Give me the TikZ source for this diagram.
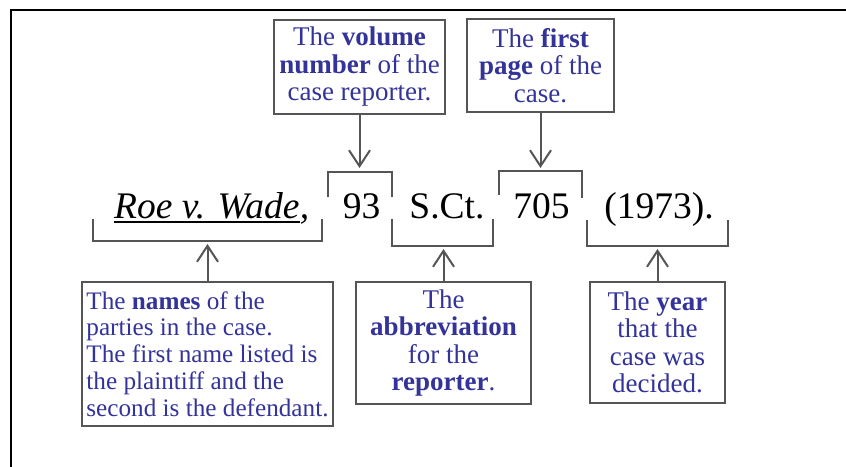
\documentclass[tikz,border=0pt]{standalone}
\usepackage{fontspec}
\setmainfont{Liberation Serif}
\usetikzlibrary{arrows.meta}
\definecolor{txtblue}{HTML}{333399}
\definecolor{lgray}{HTML}{555555}
\begin{document}
\begin{tikzpicture}[x=1pt,y=-1pt,
  note/.style={draw=lgray, line width=2pt, text=txtblue, align=center, inner sep=0pt, font=\fontsize{27}{27.5}\selectfont},
  cite/.style={anchor=base, inner sep=0pt, font=\fontsize{37.5}{40}\selectfont},
  brk/.style={draw=lgray, line width=2pt},
  arr/.style={draw=lgray, line width=2pt, -{Straight Barb[length=16pt,width=21pt]}}]
\useasboundingbox (0,0) rectangle (846,466);
\fill[white] (0,0) rectangle (846,466);
\draw[line width=2.5pt] (11,470) -- (11,10) -- (850,10);

% explanation boxes
\node[note, minimum width=171pt, minimum height=94pt] (vol) at (359.5,67) {The \textbf{volume}\\\textbf{number} of the\\case reporter.};
\node[note, minimum width=147pt, minimum height=93pt] (pg) at (540.5,65.5) {The \textbf{first}\\\textbf{page} of the\\case.};
\node[note, align=left, minimum width=251pt, minimum height=144pt, font=\fontsize{25.2}{26.7}\selectfont] (names) at (207.5,354) {The \textbf{names} of the\\parties in the case.\\The first name listed is\\the plaintiff and the\\second is the defendant.};
\node[note, minimum width=175pt, minimum height=122pt] (abbr) at (443.5,343) {The\\\textbf{abbreviation}\\for the\\\textbf{reporter}.};
\node[note, minimum width=135pt, minimum height=121pt] (year) at (657.5,342.5) {The \textbf{year}\\that the\\case was\\decided.};

% citation
\node[cite, anchor=base west] (roe) at (114,218) {\textit{Roe v. Wade}};
\node[cite, anchor=base west] (comma) at (roe.base east) {\textit{,}};
\node[cite] (vn) at (361.5,218) {93};
\node[cite] (rep) at (447,218) {S.Ct.};
\node[cite] (fp) at (541.5,218) {705};
\node[cite] (yr) at (659,218) {(1973).};
\draw[line width=2pt] ([yshift=-4pt]roe.base west) -- ([yshift=-4pt]roe.base east);

% brackets
\draw[brk] (93,219) -- (93,241) -- (322,241) -- (322,219);
\draw[brk] (328,197) -- (328,172) -- (392,172) -- (392,197);
\draw[brk] (392,219) -- (392,246) -- (493,246) -- (493,219);
\draw[brk] (499,195) -- (499,171) -- (582,171) -- (582,198);
\draw[brk] (587,220) -- (587,246) -- (728,246) -- (728,220);

% arrow ends
\coordinate (t93) at (360,168);
\coordinate (t705) at (540,168);
\coordinate (bRoe) at (208,244);
\coordinate (bRep) at (443,249);
\coordinate (bYr) at (658,249);

\draw[arr] (vol.south) -- (vol.south |- t93);
\draw[arr] (pg.south) -- (pg.south |- t705);
\draw[arr] (names.north) -- (names.north |- bRoe);
\draw[arr] (abbr.north) -- (abbr.north |- bRep);
\draw[arr] (year.north) -- (year.north |- bYr);
\end{tikzpicture}
\end{document}
